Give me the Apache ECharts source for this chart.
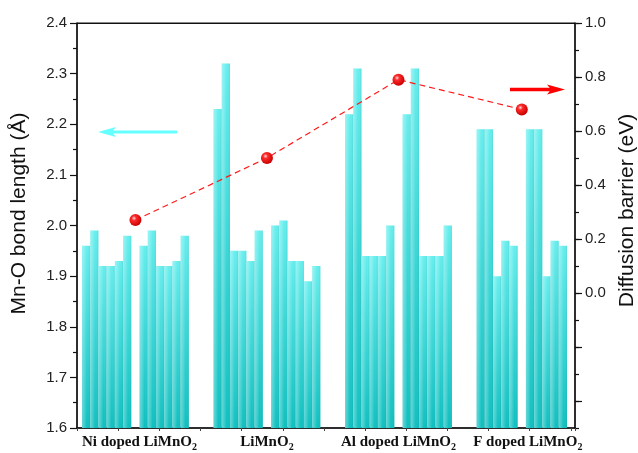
<!DOCTYPE html>
<html>
<head>
<meta charset="utf-8">
<script src="https://cdn.jsdelivr.net/npm/echarts@6/dist/echarts.min.js"></script>
<style>html,body{margin:0;padding:0;background:#fff;}#c{width:638px;height:453px;}</style>
</head>
<body>
<div id="c"></div>
<script>
// ---- data ----
const groupLabels = ['Ni doped LiMnO', 'LiMnO', 'Al doped LiMnO', 'F doped LiMnO'];
const niA = [1.96, 1.99, 1.92, 1.92, 1.93, 1.98];
const niB = [1.96, 1.99, 1.92, 1.92, 1.93, 1.98];
const liA = [2.23, 2.32, 1.95, 1.95, 1.93, 1.99];
const liB = [2.00, 2.01, 1.93, 1.93, 1.89, 1.92];
const alA = [2.22, 2.31, 1.94, 1.94, 1.94, 2.00];
const alB = [2.22, 2.31, 1.94, 1.94, 1.94, 2.00];
const fA = [2.19, 2.19, 1.90, 1.97, 1.96];
const fB = [2.19, 2.19, 1.90, 1.97, 1.96];
const barrier = [0.27, 0.50, 0.79, 0.68];
const rightTickLabels = [0.0, 0.2, 0.4, 0.6, 0.8, 1.0];

// ---- build category slots ----
const groups = [[niA, niB], [liA, liB], [alA, alB], [fA, fB]];
const cats = [], barData = [], lineData = [], labelMap = {};
groups.forEach(([a, b], gi) => {
  if (gi > 0) for (let k = 0; k < 3; k++) { cats.push('gap' + gi + '_' + k); barData.push('-'); lineData.push('-'); }
  a.forEach((v, i) => { cats.push('g' + gi + 'a' + i); barData.push(v); lineData.push('-'); });
  const key = 'label' + gi; labelMap[key] = gi;
  cats.push(key); barData.push('-'); lineData.push(barrier[gi]);
  b.forEach((v, i) => { cats.push('g' + gi + 'b' + i); barData.push(v); lineData.push('-'); });
});

const labFont = {fontFamily: 'Liberation Serif', fontWeight: 'bold', fontSize: 15, color: '#111', lineHeight: 19};
const labShift = [8, 0, 0, 12];
const rich = {s: {fontFamily: 'Liberation Serif', fontWeight: 'bold', fontSize: 10, color: '#111', lineHeight: 10, verticalAlign: 'bottom'}};
labShift.forEach((p, i) => { rich['t' + i] = Object.assign({padding: [0, 0, 0, p]}, labFont); });

const axisColor = '#111';
const chart = echarts.init(document.getElementById('c'), null, {renderer: 'canvas'});
const option = {
  animation: false,
  backgroundColor: '#fff',
  grid: [
    {left: 77, right: 63, top: 23, bottom: 25, outerBoundsMode: 'none', show: true, borderColor: axisColor, borderWidth: 1},
    {left: 82, right: 71, top: 23, bottom: 25, outerBoundsMode: 'none'},
    {left: 77, right: 63, top: 23, bottom: 52, outerBoundsMode: 'none'}
  ],
  xAxis: [
    {type: 'category', gridIndex: 1, data: cats, boundaryGap: true,
      axisLine: {show: false, onZero: false}, axisTick: {show: false}, splitLine: {show: false},
      axisLabel: {interval: 0, margin: 5,
        formatter: v => (v in labelMap) ? '{t' + labelMap[v] + '|' + groupLabels[labelMap[v]] + '}{s|2}' : '',
        rich: rich}},
    {type: 'value', gridIndex: 0, min: 0, max: 12.1, interval: 1, position: 'bottom',
      axisLine: {show: true, onZero: false, lineStyle: {color: axisColor, width: 1.5}},
      axisTick: {show: true, length: 3, lineStyle: {color: '#444'}},
      axisLabel: {show: false}, splitLine: {show: false}},
    {type: 'value', gridIndex: 0, position: 'top', min: 0, max: 1,
      axisLine: {show: true, onZero: false, lineStyle: {color: axisColor, width: 1}},
      axisTick: {show: false}, axisLabel: {show: false}, splitLine: {show: false}},
    {type: 'value', gridIndex: 2, show: false, axisLine: {onZero: false}}
  ],
  yAxis: [
    {type: 'value', gridIndex: 0, position: 'left', min: 1.6, max: 2.4, interval: 0.1,
      name: 'Mn-O bond length (Å)', nameLocation: 'middle', nameGap: 47, nameRotate: 90,
      nameTextStyle: {fontFamily: 'Liberation Sans', fontSize: 21, color: '#111', padding: [0, 0, 0, 24]},
      axisLine: {show: true, onZero: false, lineStyle: {color: axisColor, width: 1.5}},
      axisTick: {show: true, inside: false, length: 7, lineStyle: {color: axisColor, width: 1.2}},
      minorTick: {show: true, splitNumber: 2, length: 4, lineStyle: {color: axisColor, width: 1.2}},
      axisLabel: {margin: 10, fontFamily: 'Liberation Sans', fontSize: 15, color: '#222', formatter: v => v.toFixed(1)},
      splitLine: {show: false}, minorSplitLine: {show: false}},
    {type: 'value', gridIndex: 0, position: 'right', min: -0.5, max: 1.0, interval: 0.1,
      name: 'Diffusion barrier (eV)', nameLocation: 'middle', nameGap: 35, nameRotate: 90,
      nameTextStyle: {fontFamily: 'Liberation Sans', fontSize: 21, color: '#111', padding: [0, 0, 0, 30]},
      axisLine: {show: true, onZero: false, lineStyle: {color: axisColor, width: 1.5}},
      axisTick: {show: true, inside: false, length: 4, lineStyle: {color: axisColor, width: 1.2}},
      axisLabel: {margin: 10, fontFamily: 'Liberation Sans', fontSize: 15, color: '#222',
        formatter: v => rightTickLabels.some(r => Math.abs(r - v) < 1e-6) ? v.toFixed(1) : ''},
      splitLine: {show: false}},
    {type: 'value', gridIndex: 1, min: 1.6, max: 2.4, show: false, axisLine: {onZero: false}},
    {type: 'value', gridIndex: 1, min: -0.5, max: 1.0, show: false, axisLine: {onZero: false}},
    {type: 'value', gridIndex: 2, position: 'right', min: -0.4, max: 1.0, interval: 0.2,
      axisLine: {show: false, onZero: false}, axisTick: {show: true, inside: false, length: 7, lineStyle: {color: axisColor, width: 1.2}},
      axisLabel: {show: false}, splitLine: {show: false}}
  ],
  series: [
    {type: 'bar', xAxisIndex: 0, yAxisIndex: 2, data: barData, barWidth: '100%', barCategoryGap: '0%',
      itemStyle: {color: new echarts.graphic.LinearGradient(0, 0, 0, 1, [
        {offset: 0, color: '#66eeee'}, {offset: 1, color: '#0fbfbf'}])}, z: 2},
    {type: 'bar', xAxisIndex: 0, yAxisIndex: 2, data: barData, barWidth: '100%', barGap: '-100%',
      itemStyle: {color: new echarts.graphic.LinearGradient(0, 0, 1, 0, [
        {offset: 0, color: 'rgba(255,255,255,0.35)'}, {offset: 0.3, color: 'rgba(255,255,255,0.2)'},
        {offset: 0.6, color: 'rgba(255,255,255,0.0)'}, {offset: 1, color: 'rgba(0,90,90,0.12)'}])}, z: 3},
    {type: 'line', xAxisIndex: 0, yAxisIndex: 3, data: lineData, connectNulls: true,
      lineStyle: {color: '#ff1a1a', width: 1.2, type: [6, 4]},
      symbol: 'circle', symbolSize: 12,
      itemStyle: {color: new echarts.graphic.RadialGradient(0.38, 0.35, 0.65, [
        {offset: 0, color: '#ffe0e0'}, {offset: 0.3, color: '#ff2a2a'}, {offset: 1, color: '#c80000'}]), borderWidth: 0},
      z: 5}
  ],
  graphic: [
    {type: 'line', shape: {x1: 112, y1: 132, x2: 177, y2: 132}, style: {stroke: '#66ffff', lineWidth: 3}, z: 10},
    {type: 'polygon', shape: {points: [[98, 132], [116, 127], [112, 132], [116, 137]]}, style: {fill: '#66ffff'}, z: 10},
    {type: 'line', shape: {x1: 510, y1: 89.5, x2: 551, y2: 89.5}, style: {stroke: '#ff0000', lineWidth: 3.5}, z: 10},
    {type: 'polygon', shape: {points: [[565, 89.5], [547, 84.5], [551, 89.5], [547, 94.5]]}, style: {fill: '#ff0000'}, z: 10}
  ]
};
chart.setOption(option);
</script>
</body>
</html>
